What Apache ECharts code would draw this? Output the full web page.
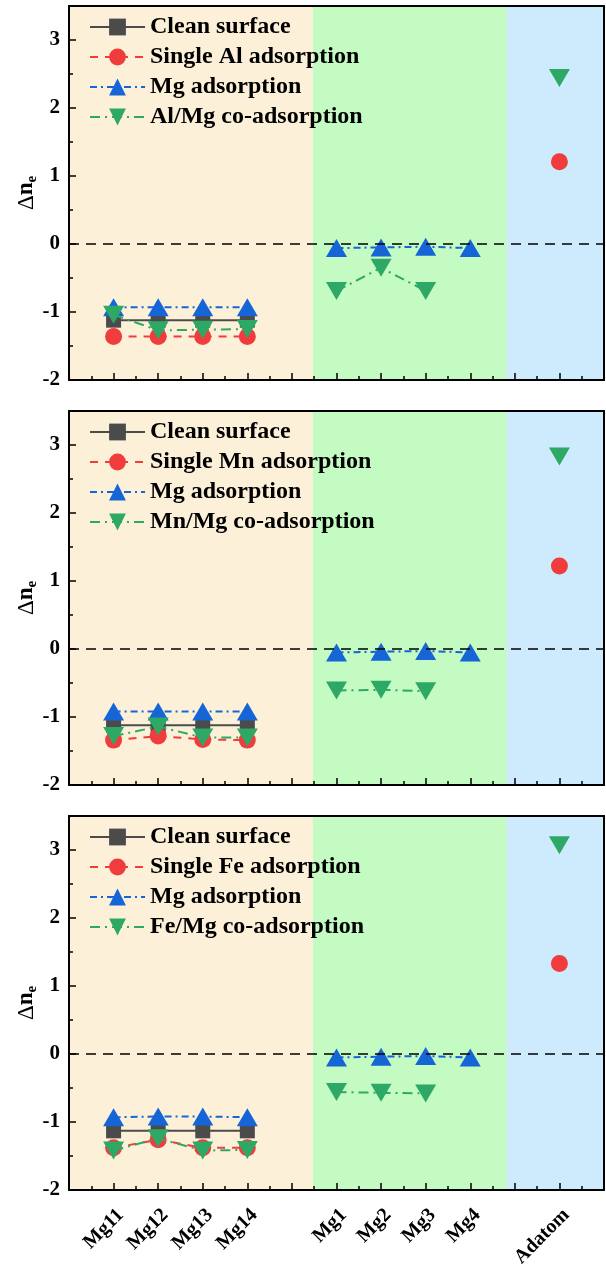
<!DOCTYPE html>
<html>
<head>
<meta charset="utf-8">
<script src="https://cdn.jsdelivr.net/npm/echarts@6/dist/echarts.min.js"></script>
<style>
html,body{margin:0;padding:0;background:#fff;}
#chart{width:606px;height:1270px;}
</style>
</head>
<body>
<div id="chart"></div>
<script>
// ---------- data ----------
const xPositions = [1, 2, 3, 4, 6, 7, 8, 9, 11];
const xLabels = ['Mg11', 'Mg12', 'Mg13', 'Mg14', 'Mg1', 'Mg2', 'Mg3', 'Mg4', 'Adatom'];
const yTicks = [-2, -1, 0, 1, 2, 3];

// panel 1 (Al)
const clean1  = [-1.12, -1.12, -1.12, -1.12, null, null, null, null, null];
const single1 = [-1.36, -1.36, -1.36, -1.36, null, null, null, null, 1.21];
const mgAds1  = [-0.93, -0.93, -0.93, -0.93, -0.06, -0.05, -0.04, -0.06, null];
const coAds1  = [-1.04, -1.27, -1.26, -1.25, -0.69, -0.35, -0.69, null, 2.44];

// panel 2 (Mn)
const clean2  = [-1.12, -1.12, -1.12, -1.12, null, null, null, null, null];
const single2 = [-1.34, -1.28, -1.33, -1.34, null, null, null, null, 1.22];
const mgAds2  = [-0.92, -0.92, -0.92, -0.92, -0.05, -0.04, -0.03, -0.05, null];
const coAds2  = [-1.28, -1.14, -1.30, -1.30, -0.61, -0.60, -0.62, null, 2.83];

// panel 3 (Fe)
const clean3  = [-1.13, -1.13, -1.13, -1.13, null, null, null, null, null];
const single3 = [-1.38, -1.26, -1.38, -1.38, null, null, null, null, 1.33];
const mgAds3  = [-0.93, -0.92, -0.92, -0.93, -0.05, -0.04, -0.03, -0.05, null];
const coAds3  = [-1.42, -1.24, -1.42, -1.41, -0.56, -0.57, -0.58, null, 3.07];

const elements = ['Al', 'Mn', 'Fe'];
const panels = [
  [clean1, single1, mgAds1, coAds1],
  [clean2, single2, mgAds2, coAds2],
  [clean3, single3, mgAds3, coAds3]
];
// background region boundaries (x axis units)
const regionEdges = [0, 5.47, 9.82, 12];
const regionColors = ['#fcf1d8', '#c3fbc3', '#cdebfc'];

// ---------- styling ----------
const FONT = "'Liberation Serif','Times New Roman',serif";
const gridTops = [6, 411, 816];
const GRID_H = 374;
const seriesStyles = [
  {color: '#4b4b4b', symbol: 'rect', size: [15, 15], rotate: 0, dash: 'solid'},
  {color: '#f03c3c', symbol: 'circle', size: 17, rotate: 0, dash: [8, 7]},
  {color: '#1565d6', symbol: 'triangle', size: [21, 18], rotate: 0, dash: [7, 4, 2, 4]},
  {color: '#2ea865', symbol: 'triangle', size: [21, 18], rotate: 180, dash: [10, 5, 2, 5]}
];

const labelAt = {};
xPositions.forEach((p, i) => { labelAt[p] = xLabels[i]; });

function toData(values) {
  const out = [];
  let prev = null;
  values.forEach((v, i) => {
    const x = xPositions[i];
    if (prev !== null && x - prev > 1) out.push([prev + 1, '-']); // break line between groups
    out.push([x, v === null ? '-' : v]);
    prev = x;
  });
  return out;
}

const grid = [], xAxis = [], yAxis = [], series = [], legend = [];
panels.forEach((vals, g) => {
  grid.push({left: 69, top: gridTops[g], width: 535, height: GRID_H, containLabel: false, outerBoundsMode: 'none'});
  xAxis.push({
    type: 'value', gridIndex: g, min: 0, max: 12, interval: 1, z: 10,
    axisLine: {onZero: false, lineStyle: {color: '#000', width: 2}},
    axisTick: {inside: true, length: 7, lineStyle: {color: '#000', width: 1.5}},
    minorTick: {show: true, splitNumber: 2, length: 4, lineStyle: {color: '#000', width: 1.5}},
    splitLine: {show: false},
    axisLabel: {
      show: g === 2, rotate: 45, margin: 15, verticalAlign: 'top', color: '#000',
      fontFamily: FONT, fontWeight: 'bold', fontSize: 20,
      formatter: v => labelAt[v] || ''
    }
  });
  xAxis.push({
    type: 'value', gridIndex: g, min: 0, max: 12, position: 'top', z: 10,
    axisLine: {onZero: false, lineStyle: {color: '#000', width: 2}},
    axisTick: {show: false}, axisLabel: {show: false}, splitLine: {show: false}
  });
  yAxis.push({
    type: 'value', gridIndex: g, min: yTicks[0], max: 3.5, interval: 1, z: 10,
    name: '{d|Δ}{n|n}{e|e}', nameLocation: 'middle', nameGap: 29, nameRotate: 90,
    nameMoveOverlap: false,
    nameTextStyle: {
      color: '#000',
      rich: {
        d: {fontFamily: FONT, fontSize: 23, color: '#000'},
        n: {fontFamily: FONT, fontSize: 23, fontWeight: 'bold', color: '#000'},
        e: {fontFamily: FONT, fontSize: 15, fontWeight: 'bold', color: '#000', padding: [12, 0, 0, 0]}
      }
    },
    axisLine: {onZero: false, lineStyle: {color: '#000', width: 2}},
    axisTick: {inside: true, length: 7, lineStyle: {color: '#000', width: 1.5}},
    minorTick: {show: true, splitNumber: 2, length: 4, lineStyle: {color: '#000', width: 1.5}},
    splitLine: {show: false},
    axisLabel: {
      showMaxLabel: false, margin: 9, color: '#000',
      fontFamily: FONT, fontWeight: 'bold', fontSize: 21,
      formatter: v => (Number.isInteger(v) ? String(v) : '')
    }
  });
  yAxis.push({
    type: 'value', gridIndex: g, min: yTicks[0], max: 3.5, position: 'right', z: 10,
    axisLine: {onZero: false, lineStyle: {color: '#000', width: 2}},
    axisTick: {show: false}, axisLabel: {show: false}, splitLine: {show: false}
  });

  // background regions
  series.push({
    type: 'line', xAxisIndex: 2 * g, yAxisIndex: 2 * g, data: [], z: 1, silent: true,
    markArea: {
      silent: true,
      data: regionColors.map((c, i) => [
        {xAxis: regionEdges[i], itemStyle: {color: c, opacity: 1}},
        {xAxis: regionEdges[i + 1]}
      ])
    }
  });

  const names = ['Clean surface', 'Single ' + elements[g] + ' adsorption', 'Mg adsorption', elements[g] + '/Mg co-adsorption'];
  vals.forEach((v, s) => {
    const st = seriesStyles[s];
    series.push({
      type: 'line', name: names[s], xAxisIndex: 2 * g, yAxisIndex: 2 * g,
      data: toData(v), z: 2 + s,
      symbol: st.symbol, symbolSize: st.size, symbolRotate: st.rotate,
      showAllSymbol: true, connectNulls: false,
      itemStyle: {color: st.color, opacity: 1},
      lineStyle: {color: st.color, width: 2, type: st.dash},
      emphasis: {disabled: true}
    });
  });

  // dashed zero line
  series.push({
    type: 'line', xAxisIndex: 2 * g, yAxisIndex: 2 * g, data: [], z: 8, silent: true,
    markLine: {
      silent: true, symbol: ['none', 'none'], label: {show: false},
      lineStyle: {color: '#000', width: 1.6, type: [10, 7]},
      data: [{yAxis: 0}]
    }
  });

  legend.push({
    orient: 'vertical', left: 84, top: gridTops[g] + 4, itemGap: 6,
    itemWidth: 55, itemHeight: 21, selectedMode: false,
    textStyle: {fontFamily: FONT, fontWeight: 'bold', fontSize: 24, color: '#000', padding: [0, 0, 0, 0]},
    data: names
  });
});

const chart = echarts.init(document.getElementById('chart'), null, {renderer: 'canvas'});
chart.setOption({
  animation: false,
  backgroundColor: '#fff',
  grid, xAxis, yAxis, series, legend
});
</script>
</body>
</html>
